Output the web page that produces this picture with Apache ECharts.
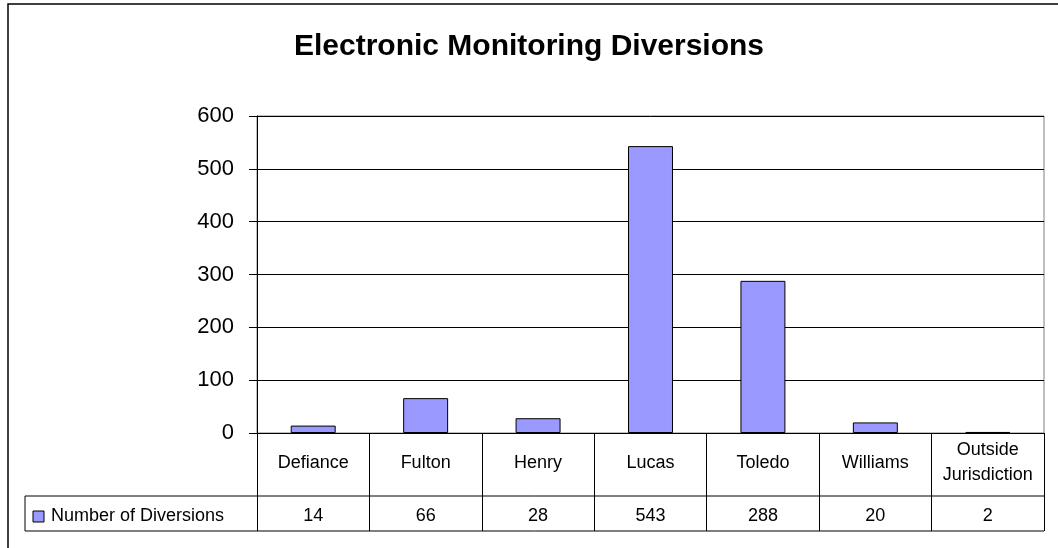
<!DOCTYPE html>
<html>
<head>
<meta charset="utf-8">
<script src="https://cdn.jsdelivr.net/npm/echarts@6/dist/echarts.min.js"></script>
<style>
html,body{margin:0;padding:0;background:#fff;}
#chart{width:1058px;height:548px;}
</style>
</head>
<body>
<div id="chart"></div>
<script>
var categories = ['Defiance', 'Fulton', 'Henry', 'Lucas', 'Toledo', 'Williams', 'Outside\nJurisdiction'];
var diversions = [14, 66, 28, 543, 288, 20, 2];
var seriesName = 'Number of Diversions';
var yTicks = [0, 100, 200, 300, 400, 500, 600];

var FONT = '"Liberation Sans", Arial, sans-serif';
var chart = echarts.init(document.getElementById('chart'));
chart.setOption({
  backgroundColor: '#fff',
  animation: false,
  title: {
    text: 'Electronic Monitoring Diversions',
    left: 'center',
    top: 27,
    textStyle: { fontFamily: FONT, fontSize: 30, fontWeight: 'bold', color: '#000' }
  },
  grid: {
    left: 257, right: 14, top: 116, bottom: 115,
    show: true, borderColor: '#808080', borderWidth: 1, backgroundColor: '#fff'
  },
  xAxis: [{
    type: 'category',
    data: categories,
    position: 'bottom',
    axisLine: { show: true, lineStyle: { color: '#000', width: 1 } },
    axisTick: { show: true, alignWithLabel: false, length: 98, lineStyle: { color: '#000', width: 1 } },
    axisLabel: {
      interval: 0, margin: 30, verticalAlign: 'middle', lineHeight: 25,
      fontFamily: FONT, fontSize: 18, color: '#000'
    },
    splitLine: { show: false }
  }, {
    type: 'category',
    data: diversions.map(String),
    position: 'bottom',
    offset: 63,
    axisLine: { show: false },
    axisTick: { show: false },
    axisLabel: {
      interval: 0, margin: 20, verticalAlign: 'middle',
      fontFamily: FONT, fontSize: 18, color: '#000'
    },
    splitLine: { show: false }
  }],
  yAxis: {
    type: 'value',
    min: yTicks[0],
    max: yTicks[yTicks.length - 1],
    interval: yTicks[1] - yTicks[0],
    axisLine: { show: true, lineStyle: { color: '#000', width: 1 } },
    axisTick: { show: true, length: 8, lineStyle: { color: '#000' } },
    axisLabel: { margin: 23, fontFamily: FONT, fontSize: 22, color: '#000' },
    splitLine: { show: true, lineStyle: { color: '#000', width: 1 } }
  },
  series: [{
    name: seriesName,
    type: 'bar',
    xAxisIndex: 0,
    data: diversions,
    barCategoryGap: '60%',
    itemStyle: { color: '#9999FF', borderColor: '#000', borderWidth: 1 }
  }],
  graphic: [
    { type: 'rect', shape: { x: 8, y: 4, width: 1200, height: 700 }, style: { fill: 'none', stroke: '#000', lineWidth: 1.5 }, silent: true },
    { type: 'line', shape: { x1: 25, y1: 496, x2: 1044, y2: 496 }, style: { stroke: '#000', lineWidth: 1 } },
    { type: 'line', shape: { x1: 25, y1: 531, x2: 1044, y2: 531 }, style: { stroke: '#000', lineWidth: 1 } },
    { type: 'line', shape: { x1: 25, y1: 496, x2: 25, y2: 531 }, style: { stroke: '#000', lineWidth: 1 } },
    { type: 'rect', shape: { x: 33, y: 511, width: 11, height: 11 }, style: { fill: '#9999FF', stroke: '#000', lineWidth: 1 } },
    { type: 'text', x: 51, y: 516, style: { text: seriesName, fontFamily: FONT, fontSize: 18, fill: '#000', verticalAlign: 'middle', align: 'left' } }
  ]
});
</script>
</body>
</html>
